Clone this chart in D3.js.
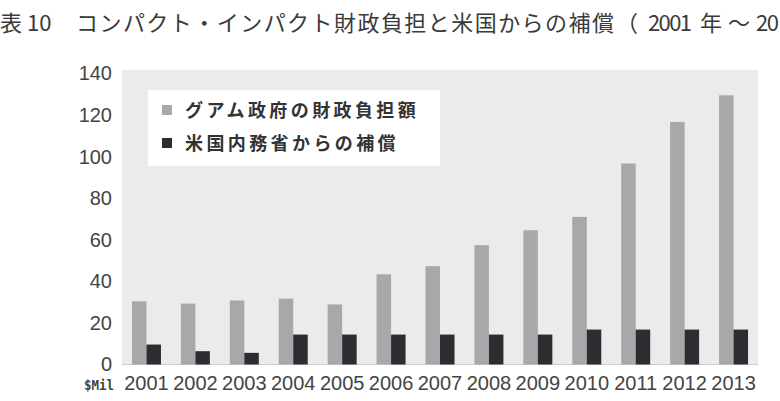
<!DOCTYPE html>
<html>
<head>
<meta charset="utf-8">
<script src="https://cdn.jsdelivr.net/npm/d3@7/dist/d3.min.js"></script>
<style>
  body { margin: 0; background: #fff; }
  svg { display: block; }
</style>
</head>
<body>
<div id="chart"></div>
<script>
// データ（単位：百万ドル）
const years = ['2001','2002','2003','2004','2005','2006','2007','2008','2009','2010','2011','2012','2013'];
const guamBurden = [30.4, 29.3, 30.8, 31.7, 28.9, 43.4, 47.3, 57.4, 64.6, 71.0, 96.7, 116.7, 129.5];
const usCompensation = [9.6, 6.4, 5.6, 14.4, 14.4, 14.4, 14.4, 14.4, 14.4, 16.8, 16.8, 16.8, 16.8];
const seriesNames = ['グアム政府の財政負担額', '米国内務省からの補償'];
const seriesColors = ['#a6a8a9', '#2c2d31'];
const yTicks = [0, 20, 40, 60, 80, 100, 120, 140];

// タイトル（右端で切れている）
const titleParts = [
  { t: '表 10', x: 0 },
  { t: 'コンパクト・インパクト財政負担と米国からの補償', x: 76, len: 538 },
  { t: '（', x: 616 },
  { t: '2001', x: 648, len: 44 },
  { t: '年', x: 700 },
  { t: '～', x: 728 },
  { t: '20', x: 756, len: 23 }
];

const W = 780, H = 401;
const plot = { left: 122, right: 758, top: 70, bottom: 364.5 };

const svg = d3.select('#chart').append('svg')
  .attr('width', W)
  .attr('height', H);

// タイトル
svg.append('g').selectAll('text')
  .data(titleParts)
  .join('text')
  .attr('x', d => d.x).attr('y', 31)
  .attr('font-family', '"Noto Sans CJK JP", sans-serif')
  .attr('font-size', 22)
  .attr('fill', '#3a3a3a')
  .each(function(d) {
    if (d.len) d3.select(this).attr('textLength', d.len).attr('lengthAdjust', 'spacing');
  })
  .text(d => d.t);

// 背景
svg.append('rect')
  .attr('x', plot.left).attr('y', plot.top)
  .attr('width', plot.right - plot.left)
  .attr('height', plot.bottom - plot.top)
  .attr('fill', '#ebebeb');

const x0 = d3.scaleBand()
  .domain(years)
  .range([plot.left, plot.right])
  .padding(0);

const x1 = d3.scaleBand()
  .domain([0, 1])
  .range([x0.bandwidth() / 2 - 14.5, x0.bandwidth() / 2 + 14.5]);

const y = d3.scaleLinear()
  .domain([0, 140])
  .range([plot.bottom, 73.5]);

// ベースライン
svg.append('line')
  .attr('x1', plot.left).attr('x2', plot.right)
  .attr('y1', y(0)).attr('y2', y(0))
  .attr('stroke', '#cfcfcf')
  .attr('stroke-width', 1);

// 棒
const rows = years.map((yr, i) => ({ year: yr, values: [guamBurden[i], usCompensation[i]] }));

const groups = svg.selectAll('.year')
  .data(rows)
  .join('g')
  .attr('class', 'year')
  .attr('transform', d => `translate(${x0(d.year)},0)`);

groups.selectAll('rect')
  .data(d => d.values.map((v, k) => ({ k, v })))
  .join('rect')
  .attr('x', d => x1(d.k))
  .attr('y', d => y(d.v))
  .attr('width', x1.bandwidth())
  .attr('height', d => y(0) - y(d.v))
  .attr('fill', d => seriesColors[d.k]);

// Y軸
svg.append('g')
  .attr('transform', `translate(${plot.left},0)`)
  .call(d3.axisLeft(y).tickValues(yTicks).tickSize(0).tickPadding(10))
  .call(g => g.select('.domain').remove())
  .call(g => g.selectAll('text')
    .attr('font-family', '"Liberation Sans Narrow", "Arial Narrow", sans-serif')
    .attr('font-size', 20)
    .attr('fill', '#444'));

// X軸
svg.append('g')
  .attr('transform', `translate(0,${plot.bottom})`)
  .call(d3.axisBottom(x0).tickSize(0).tickPadding(11))
  .call(g => g.select('.domain').remove())
  .call(g => g.selectAll('text')
    .attr('font-family', '"Liberation Sans Narrow", "Arial Narrow", sans-serif')
    .attr('font-size', 20)
    .attr('fill', '#444'));

// 単位
svg.append('text')
  .attr('x', 84).attr('y', 390)
  .attr('font-family', '"DejaVu Sans Mono", monospace')
  .attr('font-weight', 'bold')
  .attr('font-size', 14)
  .attr('textLength', 30)
  .attr('lengthAdjust', 'spacingAndGlyphs')
  .attr('fill', '#444')
  .text('$Mil');

// 凡例
const legend = svg.append('g');
legend.append('rect')
  .attr('x', 148).attr('y', 90)
  .attr('width', 292).attr('height', 76)
  .attr('fill', '#fff');

const items = legend.selectAll('.item')
  .data(seriesNames)
  .join('g')
  .attr('class', 'item')
  .attr('transform', (d, i) => `translate(162,${110 + i * 33})`);

items.append('rect')
  .attr('x', 0).attr('y', -5)
  .attr('width', 10).attr('height', 10)
  .attr('fill', (d, i) => seriesColors[i]);

items.append('text')
  .attr('x', 23).attr('y', 6.5)
  .attr('font-family', '"Noto Sans CJK JP", sans-serif')
  .attr('font-weight', 'bold')
  .attr('font-size', 18)
  .attr('letter-spacing', 3.4)
  .attr('fill', '#333')
  .text(d => d);
</script>
</body>
</html>
